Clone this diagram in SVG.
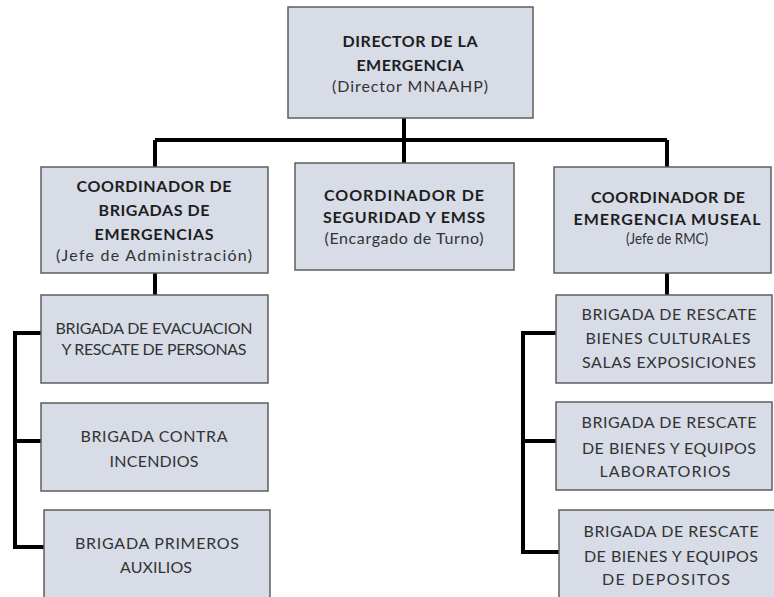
<svg xmlns="http://www.w3.org/2000/svg" width="774" height="597" viewBox="0 0 774 597">
<style>
.box{fill:#d7dce6;stroke:#5e5e5e;stroke-width:1.5}
.b{font-family:Lato,"Liberation Sans",Arial,sans-serif;font-size:16px;font-weight:bold;fill:#1e1e1e;text-anchor:middle}
.n{font-family:Lato,"Liberation Sans",Arial,sans-serif;font-size:16px;fill:#333;text-anchor:middle}
.c{fill:none;stroke:#000;stroke-width:4}
</style>
<rect width="774" height="597" fill="#fff"/>
<g id="connectors">
<path class="c" d="M404,118V163M155,140H667M155,140V167M667,140V167"/>
<path class="c" d="M155,273V295M667,273V295"/>
<path class="c" d="M41,333H15V547H44M15,441H41"/>
<path class="c" d="M556,333H523V552H559M523,441H556"/>
</g>
<g id="director">
<rect class="box" x="288" y="7" width="245" height="111"/>
<text class="b" x="410" y="47" textLength="135" lengthAdjust="spacing">DIRECTOR DE LA</text>
<text class="b" x="410" y="71" textLength="107" lengthAdjust="spacing">EMERGENCIA</text>
<text class="n" x="410" y="92" textLength="156" lengthAdjust="spacing">(Director MNAAHP)</text>
</g>
<g id="coord-brigadas">
<rect class="box" x="41" y="167" width="227" height="106"/>
<text class="b" x="154" y="192" textLength="155" lengthAdjust="spacing">COORDINADOR DE</text>
<text class="b" x="154" y="216" textLength="111" lengthAdjust="spacing">BRIGADAS DE</text>
<text class="b" x="154" y="240" textLength="119" lengthAdjust="spacing">EMERGENCIAS</text>
<text class="n" x="154" y="261" textLength="196" lengthAdjust="spacing">(Jefe de Administración)</text>
</g>
<g id="coord-seguridad">
<rect class="box" x="295" y="163" width="219" height="107"/>
<text class="b" x="404" y="201" textLength="160" lengthAdjust="spacing">COORDINADOR DE</text>
<text class="b" x="404" y="223" textLength="162" lengthAdjust="spacing">SEGURIDAD Y EMSS</text>
<text class="n" x="404" y="244" textLength="159" lengthAdjust="spacing">(Encargado de Turno)</text>
</g>
<g id="coord-museal">
<rect class="box" x="554" y="167" width="217" height="106"/>
<text class="b" x="668" y="203" textLength="154" lengthAdjust="spacing">COORDINADOR DE</text>
<text class="b" x="667" y="225" textLength="187" lengthAdjust="spacing">EMERGENCIA MUSEAL</text>
<text class="n" x="667" y="244" textLength="82" lengthAdjust="spacingAndGlyphs">(Jefe de RMC)</text>
</g>
<g id="brigada-evacuacion">
<rect class="box" x="41" y="295" width="227" height="88"/>
<text class="n" x="154" y="334" textLength="197" lengthAdjust="spacing">BRIGADA DE EVACUACION</text>
<text class="n" x="154" y="355" textLength="185" lengthAdjust="spacing">Y RESCATE DE PERSONAS</text>
</g>
<g id="brigada-incendios">
<rect class="box" x="41" y="403" width="227" height="88"/>
<text class="n" x="154" y="442" textLength="147" lengthAdjust="spacing">BRIGADA CONTRA</text>
<text class="n" x="154" y="467" textLength="89" lengthAdjust="spacing">INCENDIOS</text>
</g>
<g id="brigada-auxilios">
<rect class="box" x="44" y="510" width="226" height="95"/>
<text class="n" x="157" y="549" textLength="164" lengthAdjust="spacing">BRIGADA PRIMEROS</text>
<text class="n" x="156" y="573" textLength="72" lengthAdjust="spacing">AUXILIOS</text>
</g>
<g id="brigada-salas">
<rect class="box" x="556" y="295" width="216" height="88"/>
<text class="n" x="669" y="320" textLength="175" lengthAdjust="spacing">BRIGADA DE RESCATE</text>
<text class="n" x="668" y="344" textLength="165" lengthAdjust="spacing">BIENES CULTURALES</text>
<text class="n" x="669" y="368" textLength="174" lengthAdjust="spacing">SALAS EXPOSICIONES</text>
</g>
<g id="brigada-laboratorios">
<rect class="box" x="556" y="402" width="216" height="88"/>
<text class="n" x="669" y="428" textLength="175" lengthAdjust="spacing">BRIGADA DE RESCATE</text>
<text class="n" x="669" y="454" textLength="174" lengthAdjust="spacing">DE BIENES Y EQUIPOS</text>
<text class="n" x="665" y="477" textLength="131" lengthAdjust="spacing">LABORATORIOS</text>
</g>
<g id="brigada-depositos">
<rect class="box" x="559" y="510" width="216" height="95"/>
<text class="n" x="671" y="537" textLength="175" lengthAdjust="spacing">BRIGADA DE RESCATE</text>
<text class="n" x="671" y="562" textLength="174" lengthAdjust="spacing">DE BIENES Y EQUIPOS</text>
<text class="n" x="666" y="585" textLength="128" lengthAdjust="spacing">DE DEPOSITOS</text>
</g>
</svg>
